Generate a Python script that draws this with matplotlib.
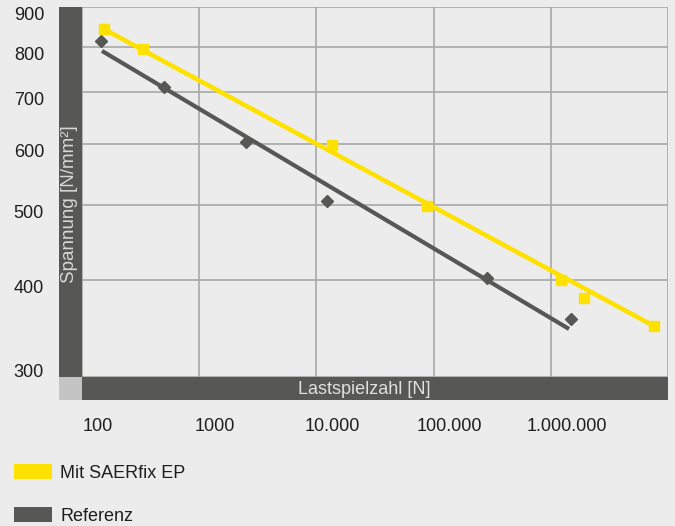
import matplotlib
matplotlib.use("Agg")
import matplotlib.pyplot as plt
from matplotlib.patches import Rectangle, Patch
from matplotlib.ticker import NullLocator
from matplotlib.transforms import ScaledTranslation

# =====================================================
# DATA
# =====================================================

# Mit SAERfix EP - measured points and fitted line
saer_n = [154, 331, 13600, 87800, 1.22e6, 1.92e6, 7.6e6]
saer_s = [843, 795, 597, 498, 400, 379, 349]
saer_fit_n = [154, 7.6e6]
saer_fit_s = [843, 349]

# Referenz - measured points and fitted line
ref_n = [144, 501, 2507, 12310, 285500, 1.49e6]
ref_s = [814, 710, 603, 506, 402, 356]
ref_fit_n = [148, 1.43e6]
ref_fit_s = [790, 346]

x_ticks = [100, 1000, 10000, 100000, 1000000]
x_labels = ["100", "1000", "10.000", "100.000", "1.000.000"]
y_ticks = [300, 400, 500, 600, 700, 800, 900]

series_labels = ["Mit SAERfix EP", "Referenz"]

# =====================================================
# STYLE
# =====================================================

BG = "#ececec"
YELLOW = "#ffe100"
GRAY = "#575755"
GRID = "#a8a8a8"
TEXT = "#1e1e1e"

plt.rcParams["font.family"] = ["Liberation Sans", "DejaVu Sans"]

W, H = 675, 526
fig = plt.figure(figsize=(W / 100, H / 100), dpi=100, facecolor=BG)
ax = fig.add_axes([82 / W, 1 - 377 / H, 586 / W, 370 / H])
ax.set_facecolor(BG)
ax.set_xscale("log")
ax.set_yscale("log")
ax.set_xlim(100, 1e7)
ax.set_ylim(300, 900)

# =====================================================
# PLOT
# =====================================================

ax.plot(ref_fit_n, ref_fit_s, color=GRAY, lw=3, solid_capstyle="butt", zorder=3)
ax.plot(ref_n, ref_s, "D", color=GRAY, ms=6, zorder=4, clip_on=False)
ax.plot(saer_fit_n, saer_fit_s, color=YELLOW, lw=3.3, solid_capstyle="butt", zorder=3)
ax.plot(saer_n, saer_s, "s", color=YELLOW, ms=7.5, zorder=4, clip_on=False)

# grid
ax.set_xticks(x_ticks + [1e7])
ax.set_yticks(y_ticks)
ax.xaxis.set_minor_locator(NullLocator())
ax.yaxis.set_minor_locator(NullLocator())
ax.set_xticklabels([])
ax.set_yticklabels([])
ax.tick_params(length=0)
ax.grid(True, color=GRID, lw=1.2)
ax.set_axisbelow(True)
for sp in ax.spines.values():
    sp.set_visible(False)

# tick labels
x_shift = ScaledTranslation(16 / 100, 0, fig.dpi_scale_trans)
for v, lab in zip(x_ticks, x_labels):
    ax.text(v, -41 / 370, lab, transform=ax.get_xaxis_transform() + x_shift,
            ha="center", va="top", fontsize=13, color=TEXT)
for v in y_ticks:
    ax.text(-38 / 586, v, str(v), transform=ax.get_yaxis_transform(),
            ha="right", va="baseline" if v == 300 else "top",
            fontsize=13, color=TEXT)

# dark label bars
fig.add_artist(Rectangle((59 / W, 1 - 377 / H), 23 / W, 370 / H,
                         transform=fig.transFigure, color=GRAY, lw=0))
fig.add_artist(Rectangle((82 / W, 1 - 400 / H), 586 / W, 23 / H,
                         transform=fig.transFigure, color=GRAY, lw=0))
fig.add_artist(Rectangle((59 / W, 1 - 400 / H), 23 / W, 23 / H,
                         transform=fig.transFigure, color="#c4c4c4", lw=0))

fig.text(70 / W, 1 - 204 / H, "Spannung [N/mm²]", rotation=90,
         ha="center", va="center", fontsize=13.5, color="#d8d8d8")
fig.text(364 / W, 1 - 389 / H, "Lastspielzahl [N]",
         ha="center", va="center", fontsize=13, color="#e0e0e0")

# legend
handles = [Patch(facecolor=YELLOW, lw=0), Patch(facecolor=GRAY, lw=0)]
fig.legend(handles, series_labels, loc="upper left",
           bbox_to_anchor=(14 / W, 1 - 464 / H), frameon=False,
           handlelength=2.1, handleheight=0.9, handletextpad=0.45,
           labelspacing=1.42, borderpad=0, borderaxespad=0,
           fontsize=13, labelcolor=TEXT)

plt.savefig("out.png", dpi=100, facecolor=BG)
